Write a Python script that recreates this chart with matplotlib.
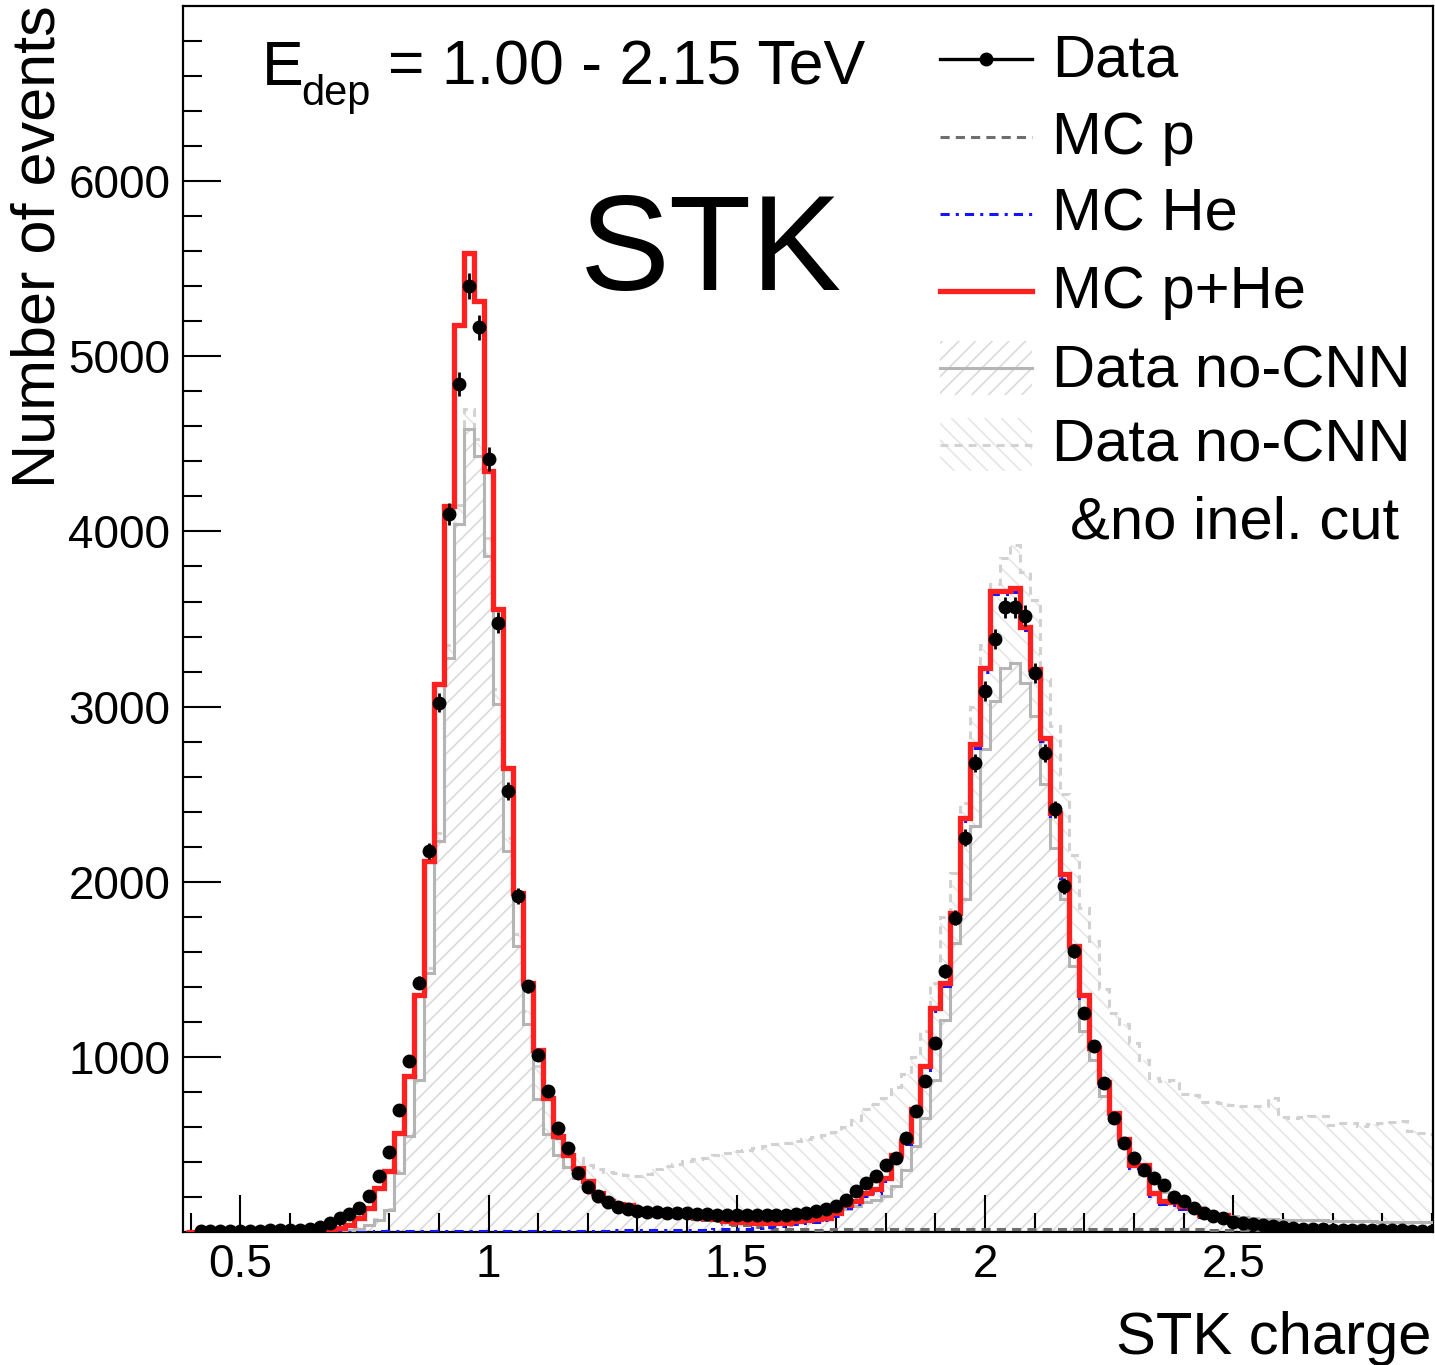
import numpy as np
import matplotlib

matplotlib.use("Agg")
import matplotlib.pyplot as plt
from matplotlib.patches import Rectangle
from matplotlib.ticker import FixedLocator, NullFormatter

plt.rcParams["font.family"] = ["Liberation Sans", "DejaVu Sans"]
plt.rcParams["hatch.linewidth"] = 1.2

# histogram binning (STK charge)
bin_lo, bin_hi, n_bins = 0.39, 2.91, 126

# bin contents, 10 bins per row
data = [
    0, 4, 5, 5, 6, 6, 7, 8, 9, 10,
    12, 14, 18, 28, 51, 80, 105, 137, 203, 318,
    455, 699, 979, 1423, 2175, 3023, 4099, 4842, 5400, 5166,
    4413, 3480, 2518, 1918, 1403, 1013, 803, 594, 480, 337,
    260, 205, 170, 145, 130, 122, 116, 112, 110, 108,
    106, 104, 102, 100, 98, 96, 95, 95, 95, 97,
    100, 104, 110, 118, 130, 150, 185, 233, 280, 318,
    385, 423, 537, 690, 861, 1080, 1490, 1794, 2251, 2680,
    3089, 3385, 3566, 3566, 3518, 3194, 2737, 2413, 1975, 1604,
    1251, 1061, 852, 652, 509, 423, 356, 309, 271, 200,
    176, 140, 110, 92, 78, 58, 50, 45, 40, 34,
    28, 24, 20, 17, 15, 14, 13, 12, 11, 10,
    10, 9, 9, 8, 8, 7,
]

mc_p = [
    0, 0, 0, 1, 1, 2, 2, 3, 3, 4,
    5, 6, 7, 9, 10, 19, 39, 77, 134, 246,
    342, 562, 885, 1351, 2113, 3123, 4140, 5175, 5584, 5312,
    4340, 3550, 2645, 1931, 1417, 1035, 759, 539, 433, 359,
    282, 215, 167, 149, 143, 120, 116, 111, 101, 96,
    92, 73, 66, 61, 48, 43, 38, 30, 24, 20,
    18, 17, 16, 14, 14, 16, 18, 18, 19, 20,
    20, 20, 20, 20, 20, 20, 20, 20, 20, 20,
    20, 20, 20, 20, 20, 20, 20, 20, 20, 20,
    20, 20, 20, 20, 20, 20, 20, 19, 18, 18,
    17, 16, 15, 14, 13, 12, 11, 10, 9, 9,
    8, 8, 7, 7, 7, 7, 7, 6, 6, 6,
    6, 5, 5, 5, 5, 5,
]

mc_he = [
    0, 0, 0, 0, 0, 0, 0, 0, 0, 0,
    0, 0, 0, 0, 2, 3, 3, 3, 3, 4,
    4, 4, 4, 5, 5, 5, 6, 6, 6, 6,
    6, 6, 6, 6, 6, 7, 7, 7, 7, 7,
    8, 8, 8, 9, 9, 10, 10, 11, 11, 12,
    12, 13, 14, 15, 16, 17, 20, 24, 28, 32,
    36, 45, 54, 60, 68, 92, 138, 160, 204, 225,
    290, 418, 500, 680, 926, 1260, 1403, 1803, 2346, 2765,
    3198, 3641, 3641, 3657, 3436, 3193, 2803, 2374, 2022, 1612,
    1336, 1032, 836, 660, 512, 365, 365, 203, 162, 152,
    129, 124, 85, 84, 83, 49, 37, 37, 37, 36,
    22, 20, 19, 18, 17, 17, 16, 16, 16, 15,
    15, 15, 15, 15, 14, 14,
]

data_nocnn = [
    0, 0, 0, 0, 1, 1, 1, 1, 2, 2,
    2, 3, 3, 4, 5, 6, 10, 20, 40, 70,
    127, 339, 546, 870, 1480, 2232, 3280, 4042, 4584, 4432,
    3861, 3013, 2175, 1632, 1185, 760, 560, 440, 370, 310,
    260, 215, 180, 160, 150, 140, 132, 125, 118, 112,
    108, 100, 95, 90, 85, 80, 78, 76, 75, 76,
    78, 82, 88, 95, 105, 115, 130, 150, 170, 185,
    204, 261, 356, 490, 651, 870, 1213, 1648, 1900, 2318,
    2756, 3032, 3218, 3251, 3137, 2947, 2556, 2195, 1900, 1518,
    1146, 985, 776, 642, 509, 375, 330, 280, 230, 190,
    150, 130, 115, 105, 98, 90, 85, 80, 76, 72,
    70, 69, 68, 67, 66, 65, 64, 63, 62, 61,
    60, 59, 58, 57, 56, 55,
]

data_nocnn_noinel = [
    0, 0, 0, 0, 1, 1, 1, 1, 2, 2,
    2, 3, 3, 4, 5, 6, 11, 21, 42, 74,
    132, 348, 560, 890, 1510, 2280, 3350, 4150, 4700, 4530,
    3960, 3100, 2250, 1700, 1260, 950, 760, 560, 470, 420,
    380, 360, 345, 335, 325, 320, 330, 360, 375, 390,
    405, 415, 425, 440, 450, 460, 470, 480, 490, 500,
    510, 520, 530, 540, 555, 570, 600, 640, 700, 730,
    765, 830, 900, 1000, 1150, 1420, 1800, 2050, 2450, 3000,
    3350, 3700, 3850, 3920, 3770, 3610, 3160, 2890, 2500, 2150,
    1850, 1660, 1390, 1250, 1190, 1080, 985, 880, 860, 870,
    790, 785, 740, 745, 735, 725, 718, 718, 720, 765,
    655, 650, 655, 660, 661, 613, 625, 620, 605, 615,
    623, 630, 632, 575, 566, 560,
]

x_ticks = [0.5, 1.0, 1.5, 2.0, 2.5]
x_tick_labels = ["0.5", "1", "1.5", "2", "2.5"]
y_ticks = [1000, 2000, 3000, 4000, 5000, 6000]

RED = "#ff2020"
GRAY = "#b5b5b5"
LIGHT = "#d2d2d2"
HATCH1 = "#dadada"
HATCH2 = "#e6e6e6"
DARK = "#6e6e6e"
BLUE = "#1414ff"

edges = np.linspace(bin_lo, bin_hi, n_bins + 1)
centers = 0.5 * (edges[:-1] + edges[1:])
data = np.asarray(data, dtype=float)
mc_p = np.asarray(mc_p, dtype=float)
mc_he = np.asarray(mc_he, dtype=float)
mc_sum = mc_p + mc_he

fig = plt.figure(figsize=(14.35, 13.65), dpi=100)
ax = fig.add_axes([0.1275, 0.0974, 0.8711, 0.8982])

# hatched areas of the no-CNN samples
ax.stairs(data_nocnn_noinel, edges, fill=True, facecolor="none", edgecolor=HATCH2,
          hatch="\\\\", linewidth=0, zorder=1)
ax.stairs(data_nocnn, edges, fill=True, facecolor="white", edgecolor=HATCH1,
          hatch="//", linewidth=0, zorder=1.1)

ax.stairs(data_nocnn_noinel, edges, baseline=None, color=LIGHT, linewidth=2.2,
          linestyle=(0, (2.6, 2.0)), zorder=2)
ax.stairs(data_nocnn, edges, baseline=None, color=GRAY, linewidth=2.2, zorder=3)
ax.stairs(mc_p, edges, baseline=None, color=DARK, linewidth=2.2,
          linestyle=(0, (3.0, 2.0)), zorder=4)
ax.stairs(mc_he, edges, baseline=None, color=BLUE, linewidth=2.2,
          linestyle=(0, (3.0, 2.0, 1.0, 2.0)), zorder=5)
ax.stairs(mc_sum, edges, baseline=None, color=RED, linewidth=3.8, zorder=6)

mask = data > 0
ax.errorbar(centers[mask], data[mask], yerr=np.sqrt(data[mask]), fmt="o",
            color="black", markersize=9, elinewidth=2, capsize=0, zorder=10)

ax.set_xlim(0.3846, 2.9022)
ax.set_ylim(0, 7000)
ax.xaxis.set_major_locator(FixedLocator(x_ticks))
ax.set_xticklabels(x_tick_labels)
ax.xaxis.set_minor_locator(FixedLocator(np.arange(0.4, 2.95, 0.1)))
ax.yaxis.set_major_locator(FixedLocator(y_ticks))
ax.yaxis.set_minor_locator(FixedLocator(np.arange(200, 7000, 200)))
ax.xaxis.set_minor_formatter(NullFormatter())
ax.yaxis.set_minor_formatter(NullFormatter())
ax.tick_params(which="both", direction="in", top=False, right=False, width=1.5, labelsize=33)
ax.tick_params(which="major", length=27)
ax.tick_params(which="minor", length=13.5)
ax.tick_params(axis="x", pad=8)
ax.tick_params(axis="y", pad=9)
for spine in ax.spines.values():
    spine.set_linewidth(1.6)

fig.text(55 / 1435, 1 - 5 / 1365, "Number of events", rotation=90, rotation_mode="anchor",
         ha="right", va="baseline", fontsize=44)
fig.text(1431 / 1435, 1 - 1354 / 1365, "STK charge", ha="right", va="baseline", fontsize=43)

# energy range label: E with a lowered "dep" subscript
ax.text(0.0632, 0.9356, "E", transform=ax.transAxes, fontsize=45, va="baseline")
ax.text(0.0944, 0.9192, "dep", transform=ax.transAxes, fontsize=30, va="baseline")
ax.text(0.1640, 0.9356, "= 1.00 - 2.15 TeV", transform=ax.transAxes, fontsize=45, va="baseline")
ax.text(0.3176, 0.7684, "STK", transform=ax.transAxes, fontsize=97, va="baseline")

# legend, drawn by hand in axes coordinates
hx0, hx1 = 0.6056, 0.6792
tx = 0.6952
line_y = [0.9568, 0.8932, 0.8303, 0.7675, 0.7047, 0.6419]
text_y = [0.9421, 0.8793, 0.8173, 0.7537, 0.6892, 0.6288, 0.5653]
labels = ["Data", "MC p", "MC He", "MC p+He", "Data no-CNN", "Data no-CNN"]

kw = dict(transform=ax.transAxes, clip_on=False)
ax.add_patch(Rectangle((hx0, 0.6827), hx1 - hx0, 0.0441, facecolor="none", edgecolor=HATCH1,
                       hatch="//", linewidth=0, **kw))
ax.add_patch(Rectangle((hx0, 0.6207), hx1 - hx0, 0.0432, facecolor="none", edgecolor=HATCH2,
                       hatch="\\\\", linewidth=0, **kw))
ax.plot([hx0, hx1], [line_y[0]] * 2, color="black", linewidth=2.4, **kw)
ax.plot([0.5 * (hx0 + hx1)], [line_y[0]], "o", color="black", markersize=9, **kw)
ax.plot([hx0, hx1], [line_y[1]] * 2, color=DARK, linewidth=2.2, linestyle=(0, (3.0, 2.0)), **kw)
ax.plot([hx0, hx1], [line_y[2]] * 2, color=BLUE, linewidth=2.2,
        linestyle=(0, (3.0, 2.0, 1.0, 2.0)), **kw)
ax.plot([hx0, hx1], [line_y[3]] * 2, color=RED, linewidth=3.8, **kw)
ax.plot([hx0, hx1], [line_y[4]] * 2, color=GRAY, linewidth=2.2, **kw)
ax.plot([hx0, hx1], [line_y[5]] * 2, color=LIGHT, linewidth=2.2, linestyle=(0, (2.6, 2.0)), **kw)

for label, ty in zip(labels, text_y):
    ax.text(tx, ty, label, transform=ax.transAxes, fontsize=43, va="baseline")
ax.text(0.7096, text_y[6], "&no inel. cut", transform=ax.transAxes, fontsize=43, va="baseline")

fig.savefig("out.png", dpi=100)
